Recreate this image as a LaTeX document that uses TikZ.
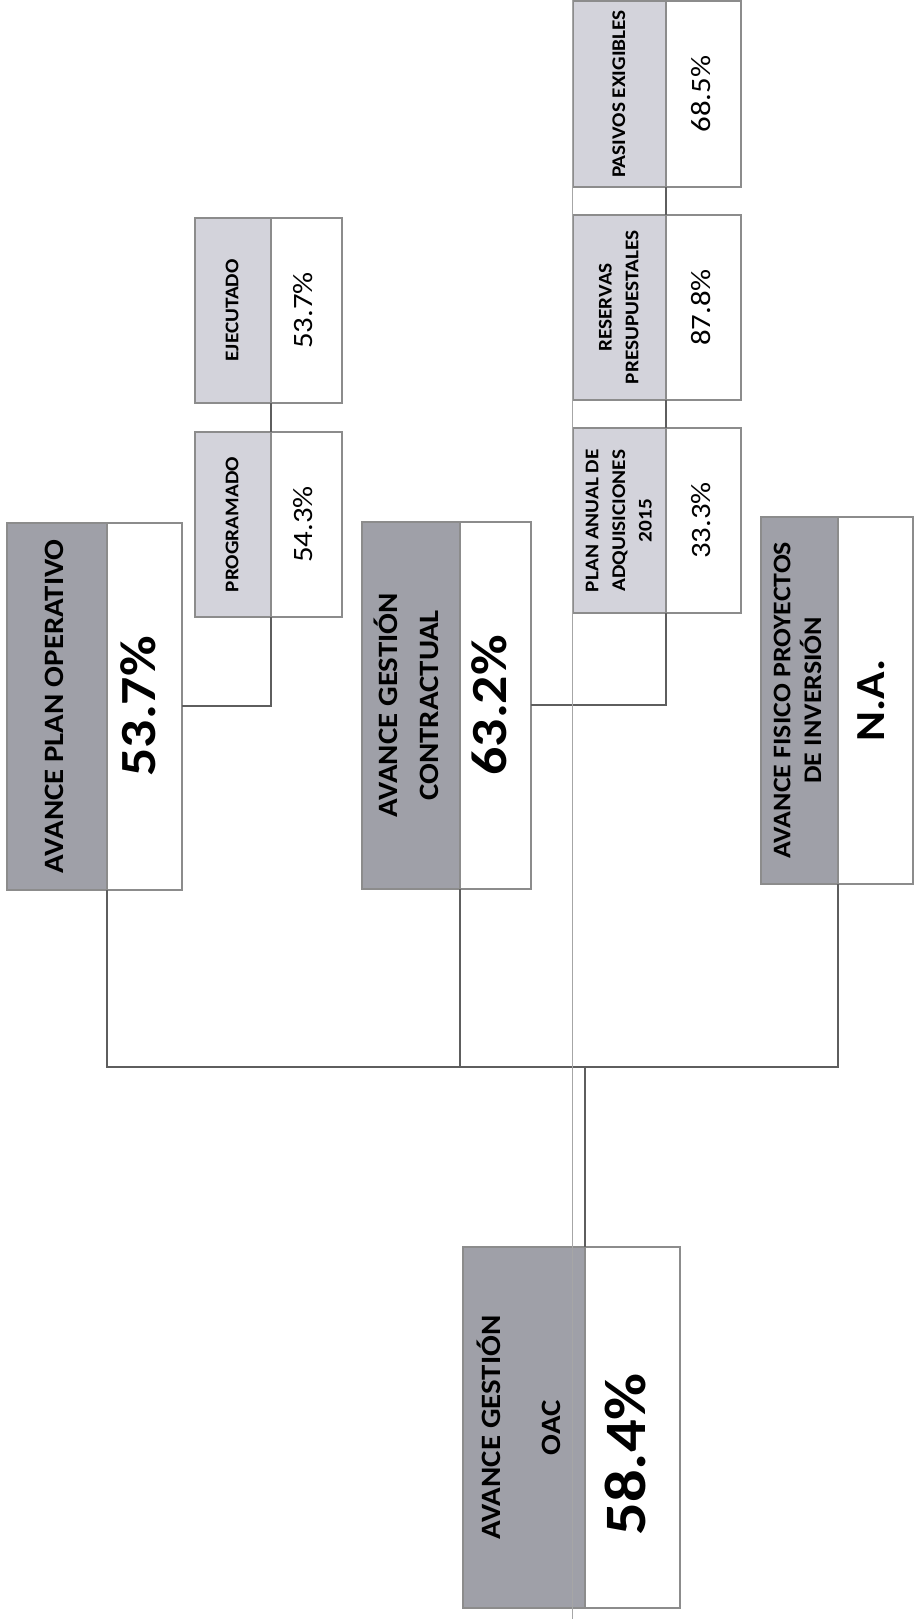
\documentclass[tikz,border=0pt]{standalone}
\usepackage{fontspec}
\setmainfont{Carlito}[FakeStretch=1.1]
\usetikzlibrary{positioning}
\definecolor{hdrgray}{HTML}{9FA0A8}
\definecolor{subgray}{HTML}{D3D3DB}
\definecolor{boxline}{HTML}{8C8C8C}
\definecolor{linkgray}{HTML}{5E5E5E}
\newcommand{\vt}[1]{\rotatebox{90}{\begin{tabular}{@{}c@{}}#1\end{tabular}}}

\begin{document}
\begin{tikzpicture}[x=0.75pt, y=-0.75pt,
    box/.style={draw=boxline, line width=1.3pt, outer sep=0pt, inner sep=0pt},
    head/.style={box, fill=hdrgray, anchor=north west, minimum height=275pt, font=\bfseries\fontsize{21}{25}\selectfont},
    value/.style={box, fill=white, minimum height=275pt, font=\bfseries\fontsize{38}{40}\selectfont},
    subhead/.style={box, fill=subgray, minimum height=139pt, font=\bfseries\fontsize{14.5}{20}\selectfont},
    subvalue/.style={box, fill=white, minimum height=139pt, font=\fontsize{21}{24}\selectfont},
    link/.style={draw=linkgray, line width=1.5pt}]
    \useasboundingbox (0,0) rectangle (914,1619);

    % root
    \node[head, minimum width=91.5pt, minimum height=271pt] (rootH) at (463,1247) {\vt{AVANCE GESTIÓN\\[20pt]OAC}};
    \node[value, minimum width=71pt, minimum height=271pt, font=\bfseries\fontsize{44}{48}\selectfont, right=0pt of rootH] (rootV) {\vt{58.4\%\hspace*{40pt}}};

    % first level
    \node[head, minimum width=75pt] (planH) at (7,523) {\vt{AVANCE PLAN OPERATIVO}};
    \node[value, minimum width=56pt, right=0pt of planH] (planV) {\vt{53.7\%}};
    \node[head, minimum width=73.5pt] (contH) at (362,522) {\vt{AVANCE GESTIÓN\\[6pt]CONTRACTUAL}};
    \node[value, minimum width=53pt, right=0pt of contH] (contV) {\vt{63.2\%}};
    \node[head, minimum width=58pt, font=\bfseries\fontsize{19}{23}\selectfont] (fisH) at (761,517) {\vt{AVANCE FISICO PROYECTOS\\DE INVERSIÓN}};
    \node[value, minimum width=56pt, font=\bfseries\fontsize{31}{34}\selectfont, right=0pt of fisH] (fisV) {\vt{N.A.}};

    % plan operativo
    \node[subhead, anchor=north west, minimum width=57pt] (progH) at (195,432) {\vt{PROGRAMADO}};
    \node[subvalue, minimum width=53pt, right=0pt of progH] (progV) {\vt{54.3\%}};
    \node[subhead, minimum width=57pt, above=21.75pt of progH] (ejecH) {\vt{EJECUTADO}};
    \node[subvalue, minimum width=53pt, right=0pt of ejecH] (ejecV) {\vt{53.7\%}};

    % gestion contractual
    \node[subhead, anchor=north west, minimum width=70pt] (anualH) at (573,428) {\vt{PLAN ANUAL DE\\ADQUISICIONES\\2015}};
    \node[subvalue, minimum width=56pt, right=0pt of anualH] (anualV) {\vt{33.3\%}};
    \node[subhead, minimum width=70pt, above=21pt of anualH] (resH) {\vt{RESERVAS\\PRESUPUESTALES}};
    \node[subvalue, minimum width=56pt, right=0pt of resH] (resV) {\vt{87.8\%}};
    \node[subhead, minimum width=70pt, above=21pt of resH] (pasH) {\vt{PASIVOS EXIGIBLES}};
    \node[subvalue, minimum width=56pt, right=0pt of pasH] (pasV) {\vt{68.5\%}};

    % connectors
    \coordinate (trunkY) at (0,1067);
    \draw[link] (planH.south east) |- (rootH.north east |- trunkY) -| (fisH.south east);
    \draw[link] (contH.south east) -- (contH.south east |- trunkY);
    \draw[link] (rootH.north east) -- (rootH.north east |- trunkY);
    \draw[link] (planV.east) -| (progH.south east);
    \draw[link] (progH.north east) -- (ejecH.south east);
    \draw[link] (contV.east) -| (anualH.south east);
    \draw[link] (anualH.north east) -- (resH.south east);
    \draw[link] (resH.north east) -- (pasH.south east);

    % scan line
    \draw[gray!70, line width=0.5pt] (572,0) -- (572,1619);
\end{tikzpicture}
\end{document}
